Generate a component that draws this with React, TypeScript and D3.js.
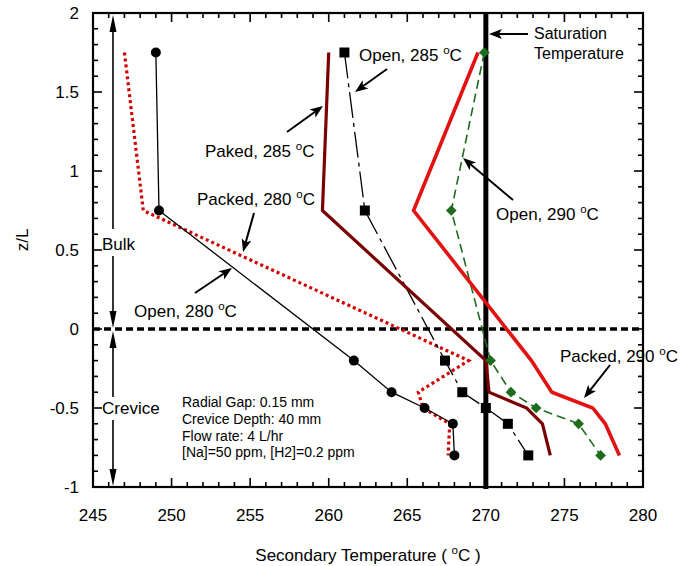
import React from "react";
import * as d3 from "d3";

// z/L levels shared by all six profiles
const zLevels = [1.75, 0.75, -0.2, -0.4, -0.5, -0.6, -0.8];

// Secondary temperature (°C) at each level
const open280 = [249.0, 249.2, 261.6, 264.0, 266.1, 267.9, 268.0];
const packed280 = [247.0, 248.2, 268.9, 265.7, 266.0, 267.7, 267.6];
const open285 = [261.0, 262.3, 267.4, 268.5, 270.0, 271.4, 272.7];
const packed285 = [260.0, 259.6, 270.0, 270.2, 272.6, 273.6, 274.1];
const open290 = [269.9, 267.8, 270.3, 271.6, 273.2, 275.9, 277.3];
const packed290 = [269.5, 265.4, 272.9, 274.2, 276.8, 277.6, 278.5];

const saturationTemp = 270;

const xTickValues = [245, 250, 255, 260, 265, 270, 275, 280];
const yTickValues = [2, 1.5, 1, 0.5, 0, -0.5, -1];
const yTickLabels = ["2", "1.5", "1", "0.5", "0", "-0.5", "-1"];

const infoLines = [
  "Radial Gap: 0.15 mm",
  "Crevice Depth: 40 mm",
  "Flow rate: 4 L/hr",
  "[Na]=50 ppm, [H2]=0.2 ppm",
];

const W = 682;
const H = 566;
const FONT = "'Liberation Sans', Arial, Helvetica, sans-serif";

const x = d3.scaleLinear().domain([245, 280]).range([93, 643]);
const y = d3.scaleLinear().domain([-1, 2]).range([487, 13]);

type Pt = [number, number];
const pts = (temps: number[]): Pt[] => temps.map((t, i) => [t, zLevels[i]]);
const line = d3
  .line<Pt>()
  .x((d) => x(d[0]))
  .y((d) => y(d[1]));

// Text with a superscript "o" before C, e.g. "Open, 285 °C"
function DegLabel({ px, py, pre, post = "C", size = 17, anchor = "start" }: any) {
  return (
    <text x={px} y={py} fontSize={size} fontFamily={FONT} textAnchor={anchor} fill="#000">
      {pre}
      <tspan dy={-7} fontSize={size * 0.68}>o</tspan>
      <tspan dy={7}>{post}</tspan>
    </text>
  );
}

// Line with a filled, notched arrowhead at (x2, y2)
function Arrow({ x1, y1, x2, y2, len = 13, wid = 10, sw = 2, notch = 0.75 }: any) {
  const dx = x2 - x1;
  const dy = y2 - y1;
  const L = Math.hypot(dx, dy);
  const ux = dx / L;
  const uy = dy / L;
  const nx = -uy;
  const ny = ux;
  const bx = x2 - ux * len;
  const by = y2 - uy * len;
  const mx = x2 - ux * len * notch;
  const my = y2 - uy * len * notch;
  const head = [
    [x2, y2],
    [bx + (nx * wid) / 2, by + (ny * wid) / 2],
    [mx, my],
    [bx - (nx * wid) / 2, by - (ny * wid) / 2],
  ]
    .map((p) => p.join(","))
    .join(" ");
  return (
    <g>
      <line x1={x1} y1={y1} x2={mx} y2={my} stroke="#000" strokeWidth={sw} />
      <polygon points={head} fill="#000" />
    </g>
  );
}

function Frame() {
  const [x0, x1] = x.range();
  const [y0, y1] = [y(2), y(-1)];
  const xMinor = d3.range(245, 280.001, 1);
  const yMinor = d3.range(-1, 2.0001, 0.1);
  const ticks: JSX.Element[] = [];
  xMinor.forEach((v, i) => {
    const major = Math.abs(v % 5) < 1e-6;
    const l = major ? 9 : 5;
    ticks.push(<line key={"xb" + i} x1={x(v)} x2={x(v)} y1={y1} y2={y1 - l} stroke="#000" strokeWidth={1.6} />);
    ticks.push(<line key={"xt" + i} x1={x(v)} x2={x(v)} y1={y0} y2={y0 + l} stroke="#000" strokeWidth={1.6} />);
  });
  yMinor.forEach((v, i) => {
    const major = Math.abs(Math.round(v * 10) % 5) === 0;
    const l = major ? 9 : 5;
    ticks.push(<line key={"yl" + i} x1={x0} x2={x0 + l} y1={y(v)} y2={y(v)} stroke="#000" strokeWidth={1.6} />);
    ticks.push(<line key={"yr" + i} x1={x1} x2={x1 - l} y1={y(v)} y2={y(v)} stroke="#000" strokeWidth={1.6} />);
  });
  return (
    <g>
      {ticks}
      <rect x={x0} y={y0} width={x1 - x0} height={y1 - y0} fill="none" stroke="#000" strokeWidth={2.2} />
      {xTickValues.map((v) => (
        <text key={"xl" + v} x={x(v)} y={521} fontSize={17} fontFamily={FONT} textAnchor="middle">
          {v}
        </text>
      ))}
      {yTickValues.map((v, i) => (
        <text key={"yl" + v} x={79} y={y(v) + 6} fontSize={17} fontFamily={FONT} textAnchor="end">
          {yTickLabels[i]}
        </text>
      ))}
      <DegLabel px={368} py={561} pre="Secondary Temperature ( " post="C )" anchor="middle" />
      <text
        transform={`translate(28,${240}) rotate(-90)`}
        fontSize={17}
        fontFamily={FONT}
        textAnchor="middle"
      >
        z/L
      </text>
    </g>
  );
}

export default function App() {
  const sq = 10;
  return (
    <svg
      width={W}
      height={H}
      viewBox={`0 0 ${W} ${H}`}
      style={{ position: "absolute", left: 0, top: 0, background: "#fff" }}
    >
      <rect width={W} height={H} fill="#fff" />

      {/* bulk / crevice boundary and saturation temperature */}
      <line x1={x(245)} x2={x(280)} y1={y(0)} y2={y(0)} stroke="#000" strokeWidth={3.5} strokeDasharray="7,4" />
      <line x1={x(saturationTemp)} x2={x(saturationTemp)} y1={y(2)} y2={y(-1) + 2} stroke="#000" strokeWidth={5} />

      {/* profiles */}
      <path d={line(pts(packed280))!} fill="none" stroke="#d20000" strokeWidth={3.2} strokeDasharray="3,3" />
      <path d={line(pts(open280))!} fill="none" stroke="#000" strokeWidth={1.3} />
      <path d={line(pts(open285))!} fill="none" stroke="#000" strokeWidth={1.3} strokeDasharray="26,5,4,5" />
      <path d={line(pts(packed285))!} fill="none" stroke="#7a0000" strokeWidth={3.2} strokeLinejoin="miter" />
      <path d={line(pts(open290))!} fill="none" stroke="#1d6b1d" strokeWidth={1.6} strokeDasharray="9,5" />
      <path d={line(pts(packed290))!} fill="none" stroke="#e31212" strokeWidth={3.6} />

      {pts(open280).map((p, i) => (
        <circle key={"c" + i} cx={x(p[0])} cy={y(p[1])} r={5} fill="#000" />
      ))}
      {pts(open285).map((p, i) => (
        <rect key={"s" + i} x={x(p[0]) - sq / 2} y={y(p[1]) - sq / 2} width={sq} height={sq} fill="#000" />
      ))}
      {pts(open290).map((p, i) => (
        <rect
          key={"d" + i}
          x={-3.8}
          y={-3.8}
          width={7.6}
          height={7.6}
          fill="#1d6b1d"
          transform={`translate(${x(p[0])},${y(p[1])}) rotate(45)`}
        />
      ))}

      <Frame />

      {/* region arrows */}
      <Arrow x1={113} y1={229} x2={113} y2={15} len={17} wid={7} sw={1.6} notch={1} />
      <Arrow x1={113} y1={256} x2={113} y2={328} len={17} wid={7} sw={1.6} notch={1} />
      <Arrow x1={113} y1={397} x2={113} y2={331} len={17} wid={7} sw={1.6} notch={1} />
      <Arrow x1={113} y1={420} x2={113} y2={486} len={17} wid={7} sw={1.6} notch={1} />
      <text x={102} y={250} fontSize={17} fontFamily={FONT}>Bulk</text>
      <text x={102} y={414} fontSize={17} fontFamily={FONT}>Crevice</text>

      {/* annotations */}
      <Arrow x1={528} y1={34} x2={489} y2={34} />
      <text x={534} y={39} fontSize={16} fontFamily={FONT}>Saturation</text>
      <text x={534} y={59} fontSize={16} fontFamily={FONT}>Temperature</text>

      <Arrow x1={387} y1={69} x2={355} y2={92} />
      <DegLabel px={359} py={61} pre="Open, 285 " />

      <Arrow x1={287} y1={132} x2={323} y2={106} />
      <DegLabel px={205} py={157} pre="Paked, 285 " />

      <Arrow x1={254} y1={213} x2={243} y2={252} />
      <DegLabel px={197} py={205} pre="Packed, 280 " />

      <Arrow x1={195} y1={293} x2={232} y2={268} />
      <DegLabel px={134} py={317} pre="Open, 280 " />

      <Arrow x1={513} y1={200} x2={463} y2={158} />
      <DegLabel px={496} py={220} pre="Open, 290 " />

      <Arrow x1={610} y1={365} x2={584} y2={398} />
      <DegLabel px={560} py={362} pre="Packed, 290 " />

      {infoLines.map((t, i) => (
        <text key={"info" + i} x={182} y={407 + i * 16.8} fontSize={14} fontFamily={FONT}>
          {t}
        </text>
      ))}
    </svg>
  );
}
